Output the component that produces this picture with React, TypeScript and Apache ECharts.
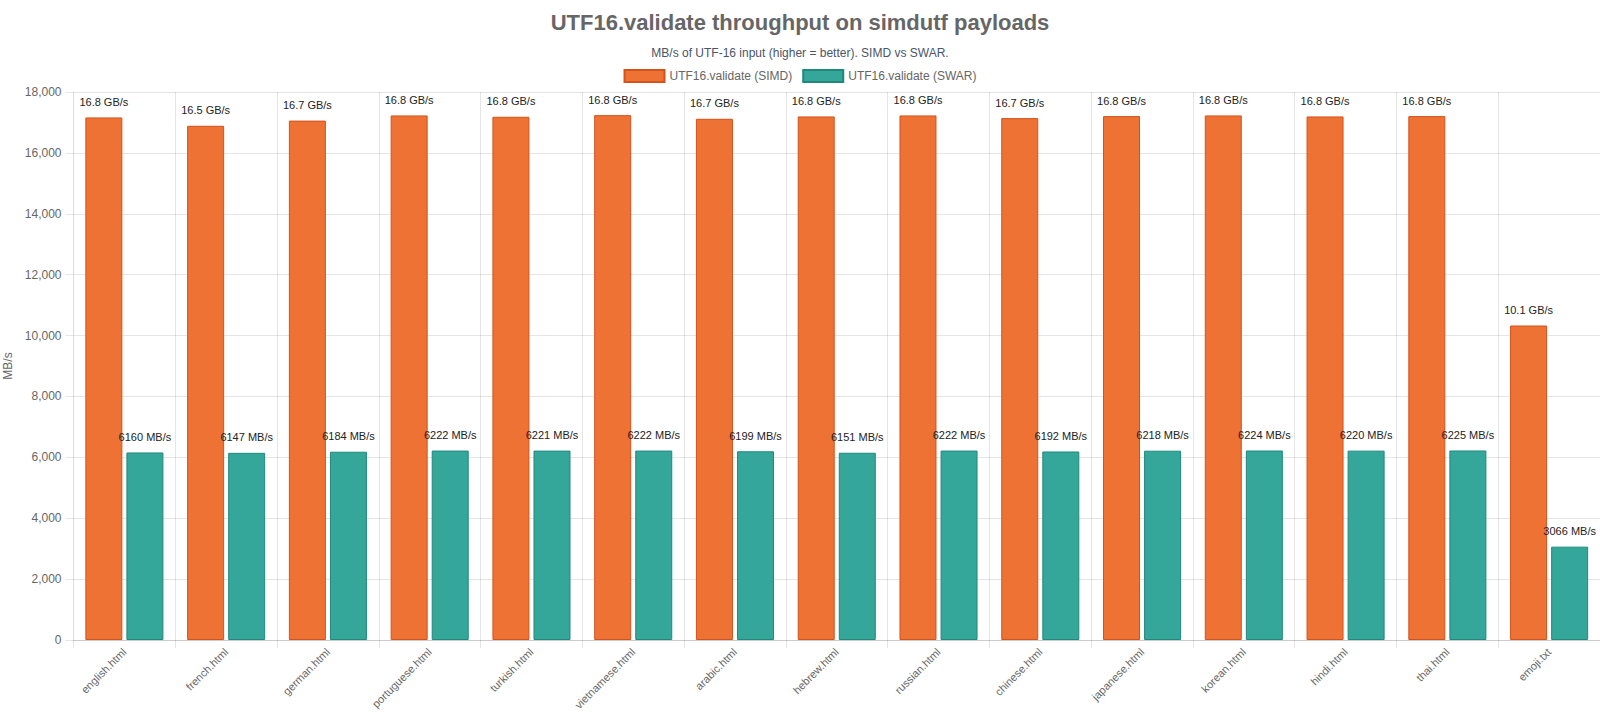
import React, { useEffect, useRef } from "react";
import * as echarts from "echarts";

const categories = [
  "english.html",
  "french.html",
  "german.html",
  "portuguese.html",
  "turkish.html",
  "vietnamese.html",
  "arabic.html",
  "hebrew.html",
  "russian.html",
  "chinese.html",
  "japanese.html",
  "korean.html",
  "hindi.html",
  "thai.html",
  "emoji.txt",
];

// MB/s throughput per payload
const simdValues = [
  17164, 16890, 17060, 17230, 17186, 17240, 17120, 17197, 17230, 17142, 17208,
  17230, 17197, 17208, 10330,
];
const swarValues = [
  6160, 6147, 6184, 6222, 6221, 6222, 6199, 6151, 6222, 6192, 6218, 6224, 6220,
  6225, 3066,
];

const yTicks = { min: 0, max: 18000, interval: 2000 };

const FONT = '"Liberation Sans", Arial, Helvetica, sans-serif';
const GRID = "rgba(0,0,0,0.1)";

export default function App() {
  const ref = useRef<HTMLDivElement>(null);

  useEffect(() => {
    if (!ref.current) return;
    const chart = echarts.init(ref.current, null, { renderer: "svg" });

    const labelStyle = {
      show: true,
      position: "top" as const,
      distance: 10,
      color: "#222",
      fontSize: 11,
      fontFamily: FONT,
    };

    chart.setOption({
      animation: false,
      backgroundColor: "#fff",
      textStyle: { fontFamily: FONT },
      title: [
        {
          text: "UTF16.validate throughput on simdutf payloads",
          left: "center",
          top: 6,
          textStyle: { fontSize: 22, fontWeight: "bold", color: "#666", fontFamily: FONT },
        },
        {
          text: "MB/s of UTF-16 input (higher = better). SIMD vs SWAR.",
          left: "center",
          top: 42,
          textStyle: { fontSize: 12, fontWeight: "normal", color: "#4a5568", fontFamily: FONT },
        },
      ],
      legend: {
        top: 64,
        left: "center",
        itemWidth: 40,
        itemHeight: 12,
        itemGap: 10,
        icon: "rect",
        textStyle: { color: "#666", fontSize: 12, fontFamily: FONT },
        data: ["UTF16.validate (SIMD)", "UTF16.validate (SWAR)"],
      },
      grid: { left: 73.5, right: 0, top: 92, bottom: 80, outerBoundsMode: "none" },
      xAxis: {
        type: "category",
        data: categories,
        boundaryGap: true,
        axisLine: { show: true, lineStyle: { color: "#ccc" } },
        axisTick: { show: true, length: 8, lineStyle: { color: GRID } },
        splitLine: { show: true, lineStyle: { color: GRID } },
        axisLabel: {
          rotate: 45,
          color: "#666",
          fontSize: 11,
          margin: 10,
          fontFamily: FONT,
        },
      },
      yAxis: {
        type: "value",
        min: yTicks.min,
        max: yTicks.max,
        interval: yTicks.interval,
        name: "MB/s",
        nameLocation: "middle",
        nameGap: 53,
        nameTextStyle: { color: "#666", fontSize: 12, fontFamily: FONT },
        axisLine: { show: true, lineStyle: { color: "#ddd" } },
        axisTick: { show: true, length: 8, lineStyle: { color: GRID } },
        splitLine: { show: true, lineStyle: { color: GRID } },
        axisLabel: {
          color: "#666",
          fontSize: 12,
          margin: 12,
          fontFamily: FONT,
          formatter: (v: number) => v.toLocaleString("en-US"),
        },
      },
      series: [
        {
          name: "UTF16.validate (SIMD)",
          type: "bar",
          data: simdValues,
          barWidth: 37,
          barGap: "11%",
          itemStyle: { color: "#ee7233", borderColor: "#d4521c", borderWidth: 1 },
          label: {
            ...labelStyle,
            formatter: (p: any) => `${(p.value / 1024).toFixed(1)} GB/s`,
          },
        },
        {
          name: "UTF16.validate (SWAR)",
          type: "bar",
          data: swarValues,
          barWidth: 37,
          barGap: "11%",
          itemStyle: { color: "#34a69a", borderColor: "#1f8a7c", borderWidth: 1 },
          label: {
            ...labelStyle,
            formatter: (p: any) => `${p.value} MB/s`,
          },
        },
      ],
    });

    return () => chart.dispose();
  }, []);

  return (
    <div
      ref={ref}
      style={{ position: "fixed", left: 0, top: 0, width: 1600, height: 720 }}
    />
  );
}
